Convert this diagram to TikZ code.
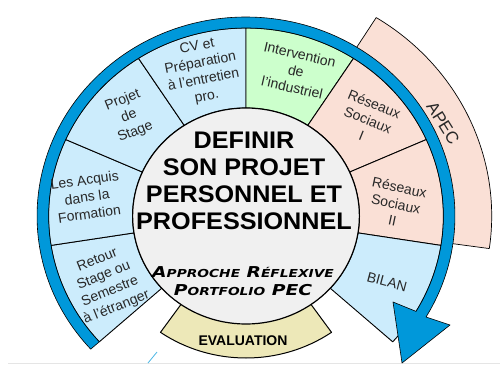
\documentclass[tikz,border=0pt]{standalone}
\usepackage{fontspec}
\setmainfont{Liberation Sans}
\newfontfamily\titlefont[FakeStretch=1.05]{Liberation Sans}
\newfontfamily\capsfont[FakeStretch=1.25]{DejaVu Sans}
\definecolor{segblue}{RGB}{204,236,252}
\definecolor{seggreen}{RGB}{204,255,204}
\definecolor{segpink}{RGB}{250,224,214}
\definecolor{apecpink}{RGB}{250,224,214}
\definecolor{arrowblue}{RGB}{0,152,218}
\definecolor{evalyellow}{RGB}{237,232,184}
\definecolor{centergray}{RGB}{240,240,240}
\definecolor{segtext}{RGB}{40,40,40}
\begin{document}
\begin{tikzpicture}[x=1pt,y=1pt,
  seglabel/.style={align=center, font=\fontsize{14}{17}\selectfont, text=segtext, inner sep=0pt},
  segpath/.style={draw=black, line width=0.9pt, line join=round},
  bigcap/.style={font=\capsfont\bfseries\itshape\fontsize{15}{18}\selectfont}]
\useasboundingbox (0,0) rectangle (500,365);
\draw[gray!20, line width=0.6pt] (8,2) -- (500,2);
\draw[arrowblue!70, line width=0.8pt] (148,2) -- (157,13);
\begin{scope}[shift={(246,149)}, xscale=1.05]
  % APEC band
  \filldraw[fill=apecpink, draw=black, line width=0.7pt, line join=round]
    (-8:195) arc (-8:58:195) -- (58:234) arc (58:-8:234) -- cycle;
  % EVALUATION band
  \filldraw[fill=evalyellow, draw=black, line width=1pt, line join=round]
    (235:100) arc (235:305:100) -- (305:142) arc (305:235:142) -- cycle;
  % ring segments
  \foreach \a/\c in {222/segblue, 189/segblue, 156/segblue, 123/segblue, 90/seggreen, 57/segpink, 24/segpink, -9/segblue}
    \filldraw[fill=\c, segpath] (\a:108) -- (\a:188) arc (\a:\a-33:188) -- (\a-33:108) arc (\a-33:\a:108) -- cycle;
  % central circle
  \filldraw[fill=centergray, draw=black, line width=1.2pt] (0,0) circle (108);
  % blue arrow
  \filldraw[fill=arrowblue, draw=black, line width=0.6pt, line join=round]
    (222:199) arc (222:-30.5:199) -- (194.3,-109) -- (148.6,-147) -- (140,-86) -- (-30.5:188) arc (-30.5:222:188) -- cycle;
\end{scope}
% segment labels
\node[seglabel, rotate=22] (retour) at (107,81) {Retour\\Stage ou\\Semestre\\à l’étranger};
\node[seglabel, rotate=8] (acquis) at (87,168) {Les Acquis\\dans la\\Formation};
\node[seglabel, rotate=22] (projet) at (129,249) {Projet\\de\\Stage};
\node[seglabel, rotate=11] (cv) at (202,293) {CV et\\Préparation\\à l’entretien\\pro.};
\node[seglabel, rotate=-13] (interv) at (296,294) {Intervention\\de\\l’industriel};
\node[seglabel, rotate=-22] (res1) at (368,245) {Réseaux\\Sociaux\\I};
\node[seglabel, rotate=-12] (res2) at (396,161) {Réseaux\\Sociaux\\II};
\node[seglabel, rotate=-15] (bilan) at (387,83) {BILAN};
\node[font=\fontsize{17}{20}\selectfont, text=segtext, rotate=-58, inner sep=0pt] (apec) at (443,242) {APEC};
% centre
\node[align=center, inner sep=0pt, font=\titlefont\bfseries\fontsize{24}{27}\selectfont] (title) at (244,184)
  {DEFINIR\\SON PROJET\\PERSONNEL ET\\PROFESSIONNEL};
\node[align=center, inner sep=0pt, bigcap] (approche) at (243,84)
  {A{\fontsize{11}{18}\selectfont PPROCHE} R{\fontsize{11}{18}\selectfont ÉFLEXIVE}\\
   P{\fontsize{11}{18}\selectfont ORTFOLIO} PEC};
\node[inner sep=0pt, font=\bfseries\fontsize{14}{16}\selectfont] (eval) at (243,24) {EVALUATION};
\end{tikzpicture}
\end{document}
